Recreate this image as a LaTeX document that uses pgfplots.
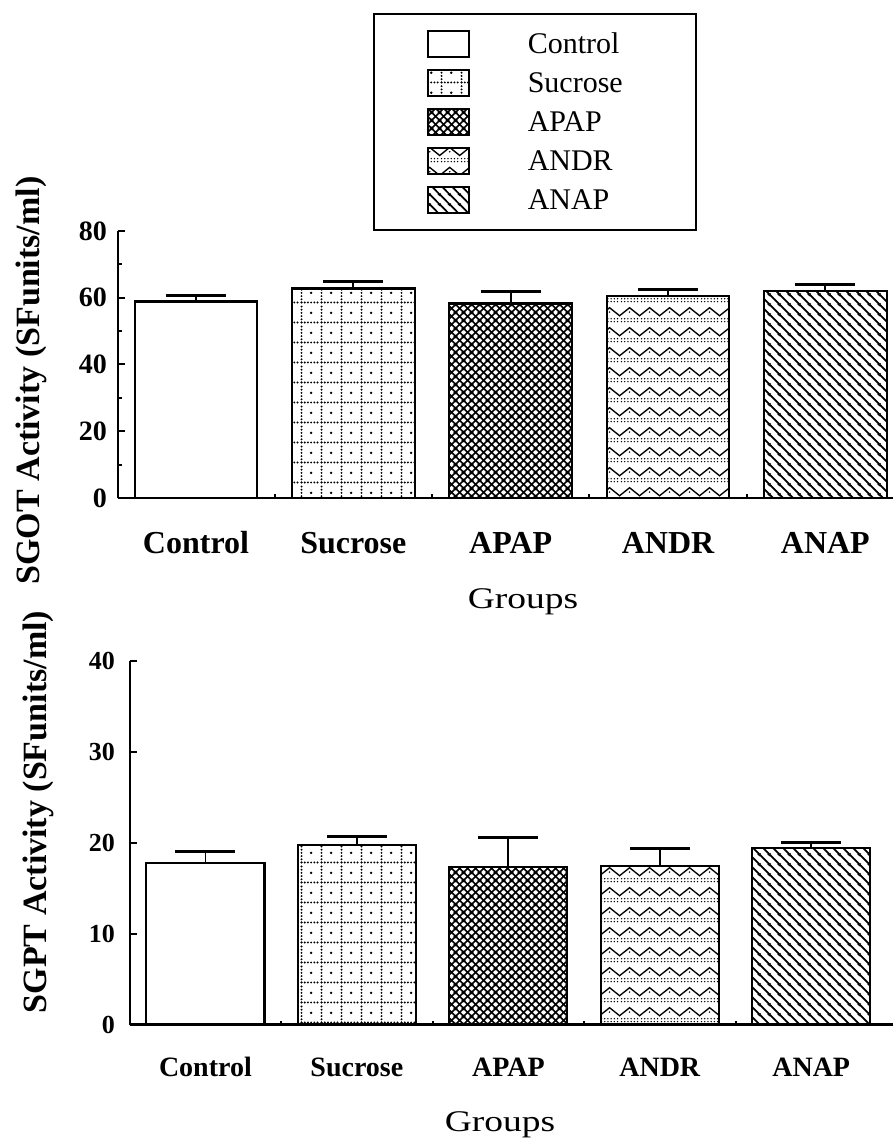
\documentclass[border=0pt]{standalone}
\usepackage{fontspec}
\setmainfont{Liberation Serif}
\usepackage{graphicx}
\usepackage{pgfplots}
\pgfplotsset{compat=1.18}
\usetikzlibrary{patterns.meta}

\tikzdeclarepattern{name=sucrosep, type=uncolored,
  bottom left={(0pt,0pt)}, top right={(20pt,20pt)}, tile size={(20pt,20pt)},
  code={\tikzset{x=1pt,y=1pt}
    \foreach \i in {0,1,2,3,4,5}{\fill (\i*3.333+1.6,1.6) circle (1.1); \fill (1.6,\i*3.333+1.6) circle (1.1);}
    \fill (11.6,11.6) circle (1.4);}}
\tikzdeclarepattern{name=apapp, type=uncolored,
  bottom left={(0pt,0pt)}, top right={(8pt,8pt)}, tile size={(8pt,8pt)},
  code={\tikzset{x=1pt,y=1pt}
    \draw[line width=1.8] (-1,-9)--(9,1) (-1,-1)--(9,9) (-1,7)--(9,17)
                          (-1,1)--(9,-9) (-1,9)--(9,-1) (-1,17)--(9,7);}}
\tikzdeclarepattern{name=anapp, type=uncolored,
  bottom left={(0pt,0pt)}, top right={(10pt,10pt)}, tile size={(10pt,10pt)},
  code={\tikzset{x=1pt,y=1pt}
    \draw[line width=1.8] (-1,1)--(11,-11) (-1,11)--(11,-1) (-1,21)--(11,9);}}
\tikzdeclarepattern{name=andrp, type=uncolored,
  bottom left={(0pt,0pt)}, top right={(20pt,20pt)}, tile size={(20pt,20pt)},
  code={\tikzset{x=1pt,y=1pt}
    \draw[line width=1.4] (-2,7.4)--(0,9)--(10,17)--(20,9)--(22,7.4);
    \foreach \i in {0,1,2,3,4,5}{\fill (\i*3.333+1.6,2.5) circle (0.8); \fill (\i*3.333+1.6,5.5) circle (0.8);}
    \fill (10,12.5) circle (0.9);}}

\pgfplotsset{
  mybar/.style={ybar, bar width=0.78, bar shift=0pt, draw=black, line width=2.2pt,
    legend image code/.code={\draw[##1, line width=2pt] (0pt,-13pt) rectangle (41pt,13pt);},
    error bars/y dir=plus, error bars/y explicit,
    error bars/error bar style={line width=1.8pt, solid},
    error bars/error mark options={rotate=90, line width=3pt, mark size=30pt}},
  common/.style={scale only axis, anchor=south west,
    axis x line*=bottom, axis y line*=left,
    axis line style={line width=2.6pt},
    xtick={0,1,2,3,4}, xticklabels={Control,Sucrose,APAP,ANDR,ANAP},
    minor xtick={0.5,1.5,2.5,3.5},
    tick align=inside, major tick length=7pt, minor tick length=4pt,
    every tick/.style={black, line width=2pt},
    major x tick style={draw=none},
    /pgf/number format/assume math mode=true,
    clip=false}
}

\begin{document}
\begin{tikzpicture}
\useasboundingbox (0pt,0pt) rectangle (893pt,1144pt);

% top: SGOT
\begin{axis}[common, at={(118pt,646pt)}, width=775pt, height=267pt,
  xmin=-0.496, xmax=4.43, ymin=0, ymax=80,
  ytick={0,20,40,60,80}, minor ytick={10,30,50,70},
  xticklabel style={font=\bfseries\fontsize{32}{38}\selectfont, text height=0.68em, text depth=0pt, anchor=center, yshift=-52pt},
  yticklabel style={font=\bfseries\fontsize{28}{34}\selectfont, anchor=east, xshift=-11pt, inner sep=0pt},
  ylabel={SGOT Activity (SFunits/ml)},
  ylabel style={font=\bfseries\fontsize{34}{40}\selectfont, at={(axis description cs:-0.1123,0.44)}, anchor=center},
  xlabel={\scalebox{1.25}[1]{Groups}},
  xlabel style={font=\fontsize{30}{36}\selectfont, at={(axis description cs:0.5226,-0.39)}, anchor=center},
  legend cell align=left,
  legend style={at={(axis description cs:0.3286,1.8165)}, anchor=north west,
    draw=black, line width=2.2pt, inner xsep=53pt, inner ysep=16pt,
    row sep=11pt, column sep=58pt, nodes={inner sep=0pt},
    font=\fontsize{30}{36}\selectfont},
]
\addplot[mybar, fill=white] coordinates {(0,58.9) +- (0,1.9)};
\addplot[mybar, pattern=sucrosep] coordinates {(1,62.8) +- (0,2.0)};
\addplot[mybar, pattern=apapp] coordinates {(2,58.3) +- (0,3.5)};
\addplot[mybar, pattern=andrp] coordinates {(3,60.5) +- (0,2.1)};
\addplot[mybar, pattern=anapp] coordinates {(4,62.0) +- (0,2.1)};
\legend{\makebox[115pt][l]{Control},\makebox[115pt][l]{Sucrose},\makebox[115pt][l]{APAP},\makebox[115pt][l]{ANDR},\makebox[115pt][l]{ANAP}}
\end{axis}

% bottom: SGPT
\begin{axis}[common, at={(130pt,119.5pt)}, width=763pt, height=363.8pt,
  xmin=-0.498, xmax=4.54, ymin=0, ymax=40,
  ytick={0,10,20,30,40},
  xticklabel style={font=\bfseries\fontsize{28}{34}\selectfont, text height=0.68em, text depth=0pt, anchor=center, yshift=-49pt},
  yticklabel style={font=\bfseries\fontsize{26}{32}\selectfont, anchor=east, xshift=-15pt, inner sep=0pt},
  ylabel={SGPT Activity (SFunits/ml)},
  ylabel style={font=\bfseries\fontsize{34}{40}\selectfont, at={(axis description cs:-0.1206,0.584)}, anchor=center},
  xlabel={\scalebox{1.25}[1]{Groups}},
  xlabel style={font=\fontsize{30}{36}\selectfont, at={(axis description cs:0.485,-0.276)}, anchor=center},
]
\addplot[mybar, fill=white] coordinates {(0,17.8) +- (0,1.2)};
\addplot[mybar, pattern=sucrosep] coordinates {(1,19.7) +- (0,1.0)};
\addplot[mybar, pattern=apapp] coordinates {(2,17.3) +- (0,3.3)};
\addplot[mybar, pattern=andrp] coordinates {(3,17.4) +- (0,2.0)};
\addplot[mybar, pattern=anapp] coordinates {(4,19.4) +- (0,0.65)};
\end{axis}
\end{tikzpicture}
\end{document}
